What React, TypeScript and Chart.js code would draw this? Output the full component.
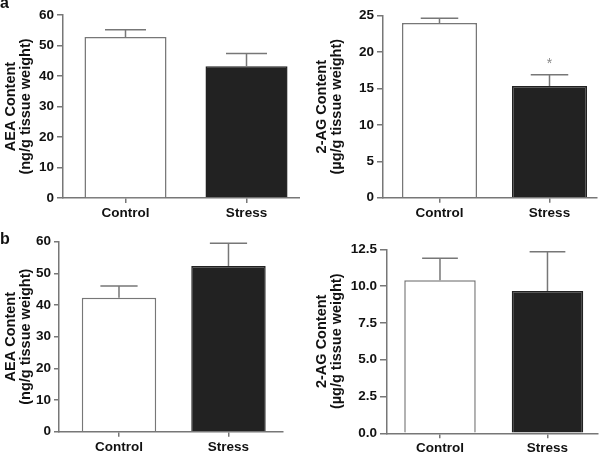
import React, { useEffect, useRef } from 'react';
import { Chart, registerables } from 'chart.js';

Chart.register(...registerables);

// ---------- data ----------
const categories = ['Control', 'Stress'];

// panel a, left: AEA content (ng/g tissue weight)
const aAeaMean = [52.8, 43.2];
const aAeaSem = [2.4, 4.2];
// panel a, right: 2-AG content (µg/g tissue weight)
const a2agMean = [24.0, 15.35];
const a2agSem = [0.65, 1.55];
const a2agSig = ['', '*'];
// panel b, left: AEA content
const bAeaMean = [42.3, 52.3];
const bAeaSem = [3.7, 7.2];
// panel b, right: 2-AG content
const b2agMean = [10.4, 9.67];
const b2agSem = [1.5, 2.67];

// y tick values
const aeaTicks = [0, 10, 20, 30, 40, 50, 60];
const agTicksA = [0, 5, 10, 15, 20, 25];
const agTicksB = [0, 2.5, 5, 7.5, 10, 12.5];

const aeaTitle = ['AEA Content', '(ng/g tissue weight)'];
const agTitle = ['2-AG Content', '(\u00b5g/g tissue weight)'];

// ---------- styles ----------
const barFill = ['#ffffff', '#222222'];
const barStroke = ['#777777', '#222222'];
const axisColor = '#777777';
const textColor = '#111111';
const FONT = "'Liberation Sans', Arial, Helvetica, sans-serif";

type PanelCfg = {
  left: number; top: number; w: number; h: number;
  area: { l: number; r: number; t: number; b: number };
  xMin: number; xMax: number; barFrac: number;
  means: number[]; sems: number[]; sig?: string[];
  yTicks: number[]; dec: number;
  title: string[]; titlePad: number;
  yTickLen: number; yTickPad: number;
};

const errorBarPlugin = {
  id: 'errorBars',
  afterDatasetsDraw(chart: any, _args: any, opts: any) {
    const ctx = chart.ctx;
    const meta = chart.getDatasetMeta(0);
    const ys = chart.scales.y;
    ctx.save();
    meta.data.forEach((bar: any, i: number) => {
      const mean = opts.means[i];
      const top = ys.getPixelForValue(mean + opts.sems[i]);
      const base = ys.getPixelForValue(mean);
      const half = bar.width / 4;
      ctx.strokeStyle = axisColor;
      ctx.lineWidth = 1.5;
      ctx.beginPath();
      ctx.moveTo(bar.x, base);
      ctx.lineTo(bar.x, top);
      ctx.moveTo(bar.x - half, top);
      ctx.lineTo(bar.x + half, top);
      ctx.stroke();
      const s = opts.sig ? opts.sig[i] : '';
      if (s) {
        ctx.fillStyle = '#888888';
        ctx.font = `14px ${FONT}`;
        ctx.textAlign = 'center';
        ctx.textBaseline = 'middle';
        ctx.fillText(s, bar.x, top - 11);
      }
    });
    ctx.restore();
  },
};

function BarPanel({ cfg }: { cfg: PanelCfg }) {
  const ref = useRef<HTMLCanvasElement>(null);
  useEffect(() => {
    const chart = new Chart(ref.current as HTMLCanvasElement, {
      type: 'bar',
      data: {
        datasets: [
          {
            data: cfg.means.map((m, i) => ({ x: i + 1, y: m })),
            backgroundColor: barFill,
            borderColor: barStroke,
            borderWidth: 1.5,
            borderSkipped: 'bottom',
            barPercentage: cfg.barFrac,
            categoryPercentage: 1,
          } as any,
        ],
      },
      options: {
        responsive: false,
        animation: false,
        events: [],
        layout: {
          padding: { top: cfg.area.t, right: cfg.w - cfg.area.r, bottom: 0, left: 0 },
        },
        plugins: {
          legend: { display: false },
          tooltip: { enabled: false },
          errorBars: { means: cfg.means, sems: cfg.sems, sig: cfg.sig },
        } as any,
        scales: {
          x: {
            type: 'linear',
            min: cfg.xMin,
            max: cfg.xMax,
            offset: false,
            afterBuildTicks: (s: any) => {
              s.ticks = categories.map((_, i) => ({ value: i + 1 }));
            },
            afterFit: (s: any) => {
              s.height = cfg.h - cfg.area.b;
            },
            ticks: {
              autoSkip: false,
              maxRotation: 0,
              padding: 2,
              color: textColor,
              font: { family: FONT, size: 13.5, weight: 'bold' },
              callback: (v: any) => categories[Math.round(Number(v)) - 1] ?? '',
            },
            grid: {
              display: true,
              offset: false,
              drawOnChartArea: false,
              drawTicks: true,
              tickLength: 5,
              color: axisColor,
              lineWidth: 1.5,
            },
            border: { display: true, color: axisColor, width: 1.5 },
          } as any,
          y: {
            type: 'linear',
            min: cfg.yTicks[0],
            max: cfg.yTicks[cfg.yTicks.length - 1],
            afterBuildTicks: (s: any) => {
              s.ticks = cfg.yTicks.map((v) => ({ value: v }));
            },
            afterFit: (s: any) => {
              s.width = cfg.area.l;
            },
            ticks: {
              padding: cfg.yTickPad,
              color: textColor,
              font: { family: FONT, size: 13.5, weight: 'bold' },
              callback: (v: any) => Number(v).toFixed(cfg.dec),
            },
            grid: {
              display: true,
              drawOnChartArea: false,
              drawTicks: true,
              tickLength: cfg.yTickLen,
              color: axisColor,
              lineWidth: 1.5,
            },
            border: { display: true, color: axisColor, width: 1.5 },
            title: {
              display: true,
              text: cfg.title,
              color: textColor,
              font: { family: FONT, size: 14.5, weight: 'bold', lineHeight: 1.0 },
              padding: { top: cfg.titlePad, bottom: 0 },
            },
          } as any,
        },
      },
      plugins: [errorBarPlugin],
    });
    return () => chart.destroy();
  }, []);
  return (
    <canvas
      ref={ref}
      width={cfg.w}
      height={cfg.h}
      style={{ position: 'absolute', left: cfg.left, top: cfg.top, width: cfg.w, height: cfg.h }}
    />
  );
}

const panels: PanelCfg[] = [
  {
    left: 0, top: 0, w: 300, h: 230,
    area: { l: 63, r: 300, t: 15, b: 198 },
    xMin: 0.4835, xMax: 2.442, barFrac: 0.678,
    means: aAeaMean, sems: aAeaSem,
    yTicks: aeaTicks, dec: 0, title: aeaTitle, titlePad: 4,
    yTickLen: 6, yTickPad: 3,
  },
  {
    left: 300, top: 0, w: 300, h: 230,
    area: { l: 83, r: 297, t: 15.7, b: 197.7 },
    xMin: 0.4864, xMax: 2.4318, barFrac: 0.682,
    means: a2agMean, sems: a2agSem, sig: a2agSig,
    yTicks: agTicksA, dec: 0, title: agTitle, titlePad: 15,
    yTickLen: 6, yTickPad: 3,
  },
  {
    left: 0, top: 230, w: 300, h: 223,
    area: { l: 59, r: 283, t: 11.7, b: 201.7 },
    xMin: 0.452, xMax: 2.498, barFrac: 0.68,
    means: bAeaMean, sems: bAeaSem,
    yTicks: aeaTicks, dec: 0, title: aeaTitle, titlePad: 4,
    yTickLen: 5, yTickPad: 3,
  },
  {
    left: 300, top: 230, w: 300, h: 223,
    area: { l: 87, r: 298, t: 19.3, b: 203.3 },
    xMin: 0.507, xMax: 2.47, barFrac: 0.665,
    means: b2agMean, sems: b2agSem,
    yTicks: agTicksB, dec: 1, title: agTitle, titlePad: 15,
    yTickLen: 7, yTickPad: 3,
  },
];

const letterStyle: React.CSSProperties = {
  position: 'absolute',
  left: 0,
  fontFamily: FONT,
  fontWeight: 'bold',
  fontSize: 16,
  lineHeight: '16px',
  color: '#111',
};

export default function App() {
  return (
    <div
      style={{
        position: 'fixed',
        left: 0,
        top: 0,
        width: 600,
        height: 453,
        background: '#ffffff',
        overflow: 'hidden',
      }}
    >
      {panels.map((p, i) => (
        <BarPanel key={i} cfg={p} />
      ))}
      <div style={{ ...letterStyle, top: -5 }}>a</div>
      <div style={{ ...letterStyle, top: 231 }}>b</div>
    </div>
  );
}
